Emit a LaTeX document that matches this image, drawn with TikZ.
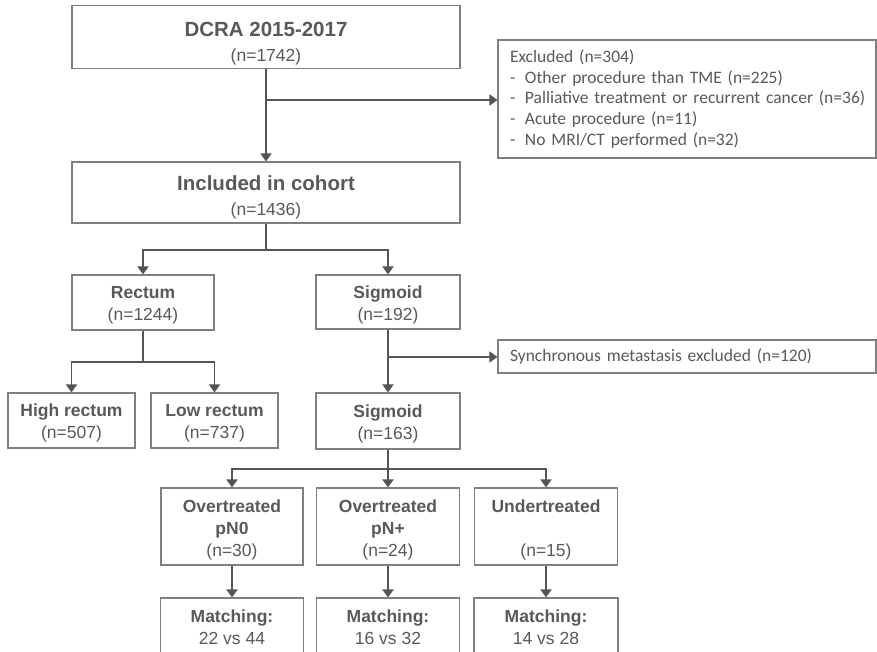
\documentclass[tikz,border=0pt]{standalone}
\usepackage{fontspec}
\setmainfont{Liberation Sans}
\newfontfamily\calfont{Carlito}
\usetikzlibrary{arrows.meta}
\definecolor{txt}{HTML}{595959}
\definecolor{bord}{HTML}{7F7F7F}
\definecolor{lin}{HTML}{555555}
\newcommand\bigttl[1]{{\fontsize{20.5}{25}\selectfont\bfseries #1}}
\newcommand\ttlb[1]{{\bfseries #1}}
\newcommand\dashitem[1]{\mbox{\makebox[15pt][l]{-}#1}}
\newcommand\bt[2]{\raisebox{0pt}[\dimexpr\height+#1\relax][\depth]{\begin{tabular}{@{}c@{}}#2\end{tabular}}}
\begin{document}
\begin{tikzpicture}[x=1pt,y=-1pt,
 box/.style={draw=bord, line width=1.1pt, fill=white, inner sep=0pt, align=center, text=txt, font=\fontsize{17.5}{22}\selectfont},
 sidebox/.style={draw=bord, line width=1.1pt, fill=white, inner ysep=0pt, inner xsep=12pt, align=left, text width=354pt, text=txt, font=\calfont\fontsize{17.5}{20.6}\selectfont},
 conn/.style={draw=lin, line width=1.7pt, -{Triangle[width=11pt,length=8pt]}},
 plainline/.style={draw=lin, line width=1.7pt}]
\clip (0,0) rectangle (877,651);
\fill[white] (0,0) rectangle (877,651);

\node[box, minimum width=388pt, minimum height=58pt, font=\fontsize{17.5}{25}\selectfont] (dcra) at (266,37) {\bt{13pt}{\bigttl{DCRA 2015-2017}\\(n=1742)}};
\node[box, minimum width=388pt, minimum height=59pt, font=\fontsize{17.5}{25}\selectfont] (incl) at (266,192.5) {\bt{11pt}{\bigttl{Included in cohort}\\(n=1436)}};

\node[sidebox, minimum height=118pt] (excl) at (687,99) {\mbox{Excluded (n=304)}\\
\dashitem{Other procedure than TME (n=225)}\\
\dashitem{Palliative treatment or recurrent cancer (n=36)}\\
\dashitem{Acute procedure (n=11)}\\
\dashitem{No MRI/CT performed (n=32)}};

\node[box, minimum width=142pt, minimum height=55pt] (rect) at (143,302.5) {\bt{6pt}{\ttlb{Rectum}\\(n=1244)}};
\node[box, minimum width=144pt, minimum height=54pt] (sig1) at (388,302) {\bt{6pt}{\ttlb{Sigmoid}\\(n=192)}};

\node[box, minimum width=127pt, minimum height=55pt] (high) at (71.5,420.5) {\bt{6pt}{\ttlb{High rectum}\\(n=507)}};
\node[box, minimum width=127pt, minimum height=55pt] (low) at (214.5,420.5) {\bt{6pt}{\ttlb{Low rectum}\\(n=737)}};
\node[box, minimum width=144pt, minimum height=56pt] (sig2) at (388,421) {\bt{6pt}{\ttlb{Sigmoid}\\(n=163)}};

\node[sidebox, minimum height=33pt] (sync) at (687,356.5) {\mbox{Synchronous metastasis excluded (n=120)}};

\node[box, minimum width=142pt, minimum height=77pt] (ot0) at (232,526.5) {\bt{7pt}{\ttlb{Overtreated}\\\ttlb{pN0}\\(n=30)}};
\node[box, minimum width=143pt, minimum height=77pt] (otp) at (388,526.5) {\bt{7pt}{\ttlb{Overtreated}\\\ttlb{pN+}\\(n=24)}};
\node[box, minimum width=143pt, minimum height=77pt] (ut) at (546,526.5) {\bt{7pt}{\ttlb{Undertreated}\\ \\(n=15)}};

\node[box, minimum width=143pt, minimum height=56pt] (m1) at (232,626) {\bt{6pt}{\ttlb{Matching:}\\22 vs 44}};
\node[box, minimum width=143pt, minimum height=56pt] (m2) at (388,626) {\bt{6pt}{\ttlb{Matching:}\\16 vs 32}};
\node[box, minimum width=144pt, minimum height=56pt] (m3) at (546,626) {\bt{6pt}{\ttlb{Matching:}\\14 vs 28}};

% connectors
\draw[conn] (dcra.south) -- (incl.north);
\coordinate (b1) at (266,100);
\draw[conn] (b1) -- (b1 -| excl.west);

\coordinate (j1) at (266,250);
\draw[plainline] (incl.south) -- (j1);
\draw[conn] (j1) -| (rect.north);
\draw[conn] (j1) -| (sig1.north);

\coordinate (j2) at (143,362);
\draw[plainline] (rect.south) -- (j2);
\draw[conn] (j2) -| (high.north);
\draw[conn] (j2) -| (low.north);

\draw[conn] (sig1.south) -- (sig2.north);
\coordinate (b2) at (388,357);
\draw[conn] (b2) -- (b2 -| sync.west);

\coordinate (j3) at (388,469);
\draw[plainline] (sig2.south) -- (j3);
\draw[conn] (j3) -| (ot0.north);
\draw[conn] (j3) -- (otp.north);
\draw[conn] (j3) -| (ut.north);

\draw[conn] (ot0.south) -- (m1.north);
\draw[conn] (otp.south) -- (m2.north);
\draw[conn] (ut.south) -- (m3.north);
\end{tikzpicture}
\end{document}
